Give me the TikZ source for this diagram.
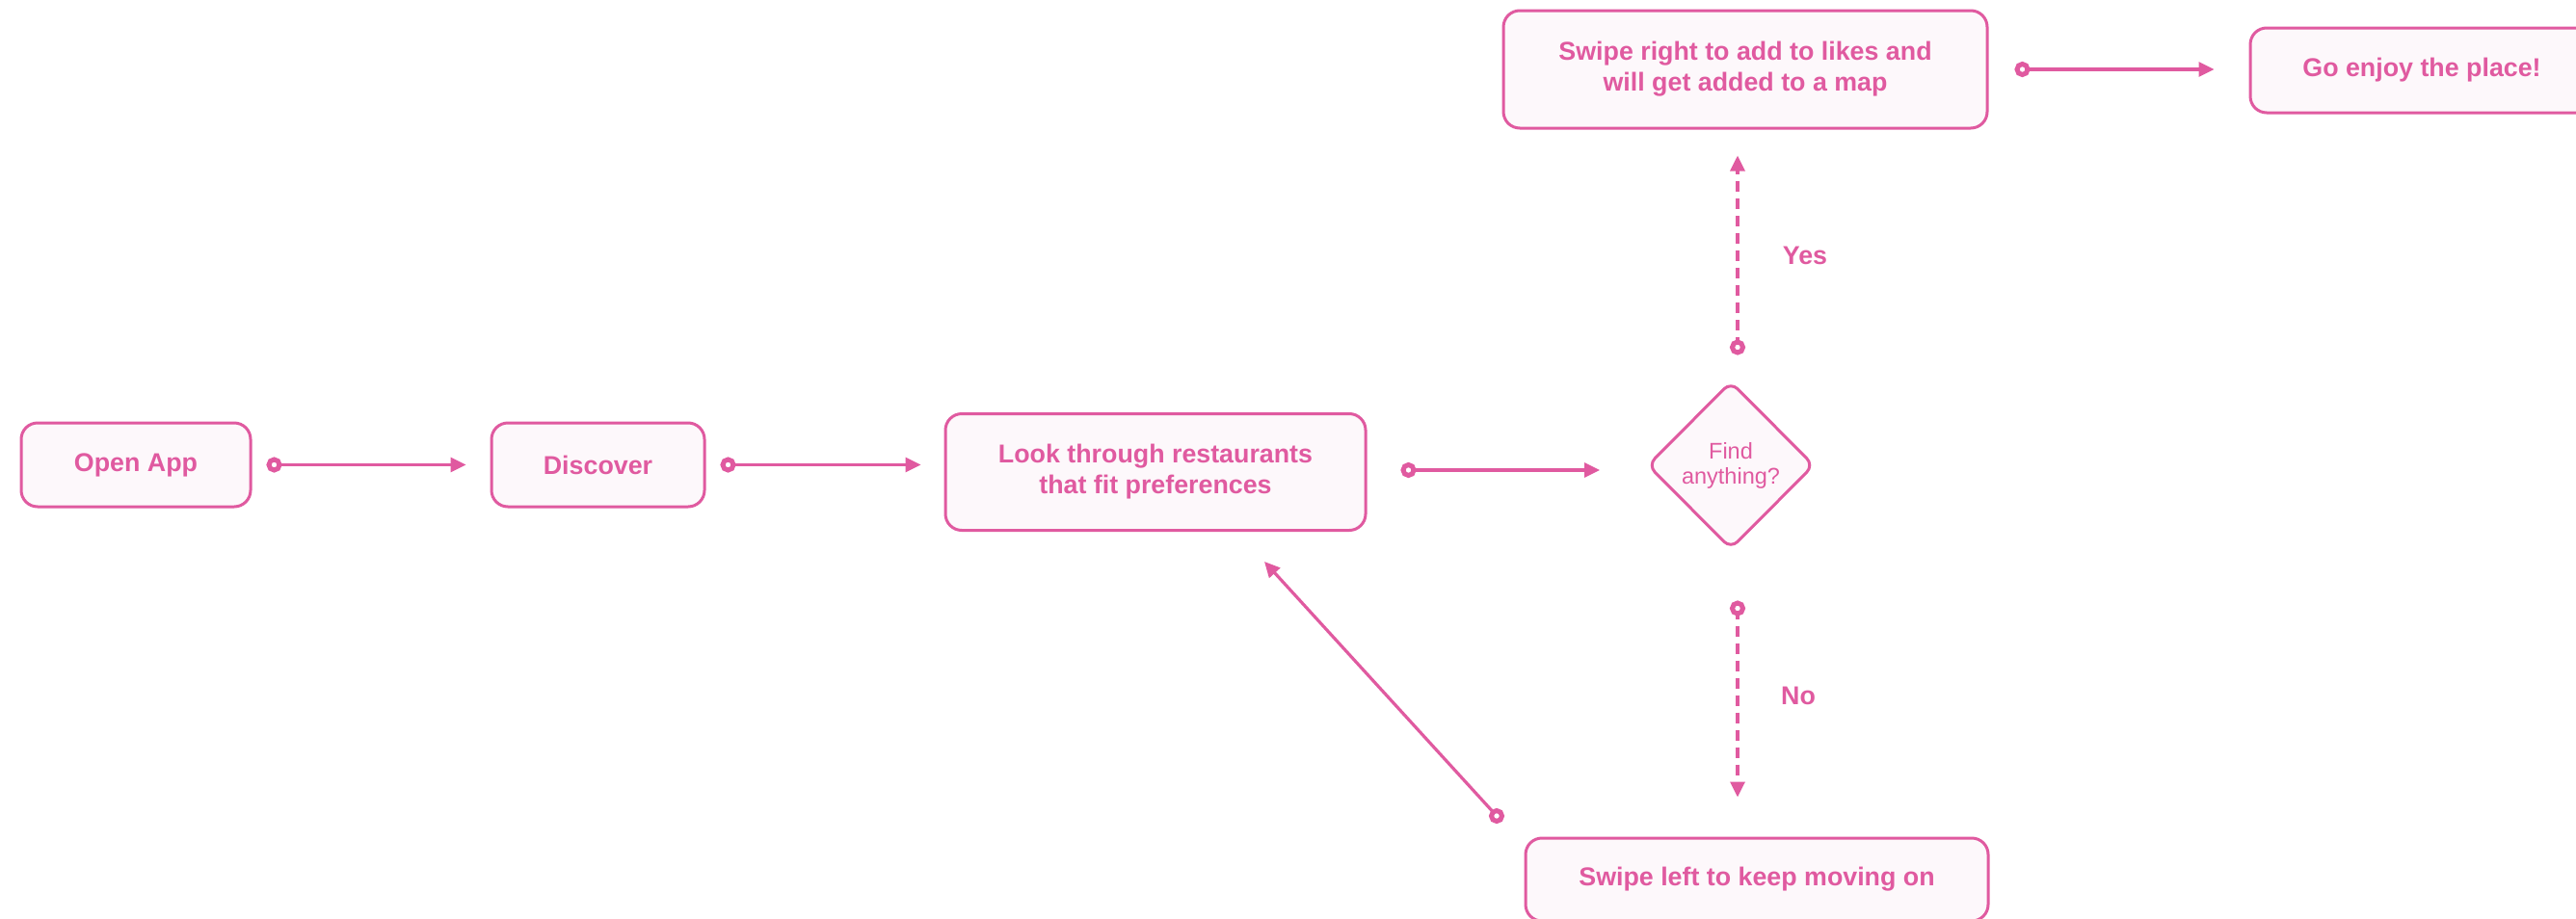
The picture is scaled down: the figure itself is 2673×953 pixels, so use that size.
\documentclass[tikz,border=0pt]{standalone}
\usepackage{fontspec}
\setmainfont{Liberation Sans}
\usetikzlibrary{arrows.meta,shapes.geometric,calc}
\definecolor{pk}{RGB}{224,90,160}
\definecolor{pkfill}{RGB}{253,248,251}
\begin{document}
\begin{tikzpicture}[x=1pt,y=-1pt,
  box/.style={draw=pk, line width=3pt, fill=pkfill, rounded corners=17pt, text=pk,
    font=\bfseries\fontsize{26.8}{32}\selectfont, align=center, inner sep=0pt},
  dec/.style={diamond, aspect=1, draw=pk, line width=3pt, fill=pkfill, rounded corners=10pt,
    text=pk, font=\fontsize{23.5}{26}\selectfont, align=center,
    minimum width=173pt, minimum height=174pt, inner sep=0pt},
  conn/.style={draw=pk, line width=3.2pt, -{Triangle[length=16pt,width=15pt]}},
  dashconn/.style={conn, dash pattern=on 11pt off 7pt},
  dotm/.style={circle, solid, draw=pk, fill=white, line width=5pt, minimum size=11pt, inner sep=0pt},
  lbl/.style={text=pk, font=\bfseries\fontsize{26.8}{32}\selectfont, inner sep=0pt}]
\useasboundingbox (0,0) rectangle (2673,953);
\fill[white] (0,0) rectangle (2673,953);
\clip (0,0) rectangle (2673,953);

\node[box, minimum width=238pt, minimum height=87pt] (OA) at (141,482.5) {Open App};
\node[box, minimum width=221pt, minimum height=87pt] (DI) at (620.5,482.5) {Discover};
\node[box, minimum width=436pt, minimum height=121pt] (LK) at (1199,490) {Look through restaurants\\that fit preferences};
\node[dec] (DM) at (1796,483) {Find\\anything?};
\node[box, minimum width=502pt, minimum height=122pt] (SR) at (1811,72) {Swipe right to add to likes and\\will get added to a map};
\node[box, minimum width=356pt, minimum height=88pt] (GE) at (2513,73) {Go enjoy the place!};
\node[box, minimum width=480pt, minimum height=86pt] (SL) at (1823,913) {Swipe left to keep moving on};

\node[lbl] (YES) at (1873,265) {Yes};
\node[lbl] (NO) at (1866,722) {No};

\coordinate (bkS) at (1553,847);
\coordinate (bkE) at (1312,583);

\draw[conn] ($(OA.east)+(23,0)$) node[dotm]{} -- ($(DI.west)+(-25,0)$);
\draw[conn] ($(DI.east)+(23,0)$) node[dotm]{} -- ($(DI.east -| LK.west)+(-24,0)$);
\draw[conn] ($(LK.east)+(43,-2)$) node[dotm]{} -- ($(LK.east -| DM.west)+(-48,-2)$);
\draw[dashconn] ($(DM.north)+(7,-34)$) node[dotm]{} -- ($(SR.south)+(-8,27)$);
\draw[conn] ($(SR.east)+(35,0)$) node[dotm]{} -- ($(SR.east -| GE.west)+(-36,0)$);
\draw[dashconn] ($(DM.south)+(7,60)$) node[dotm]{} -- ($(SL.north)+(-20,-41)$);
\draw[conn] (bkS) node[dotm]{} -- (bkE);
\end{tikzpicture}
\end{document}
